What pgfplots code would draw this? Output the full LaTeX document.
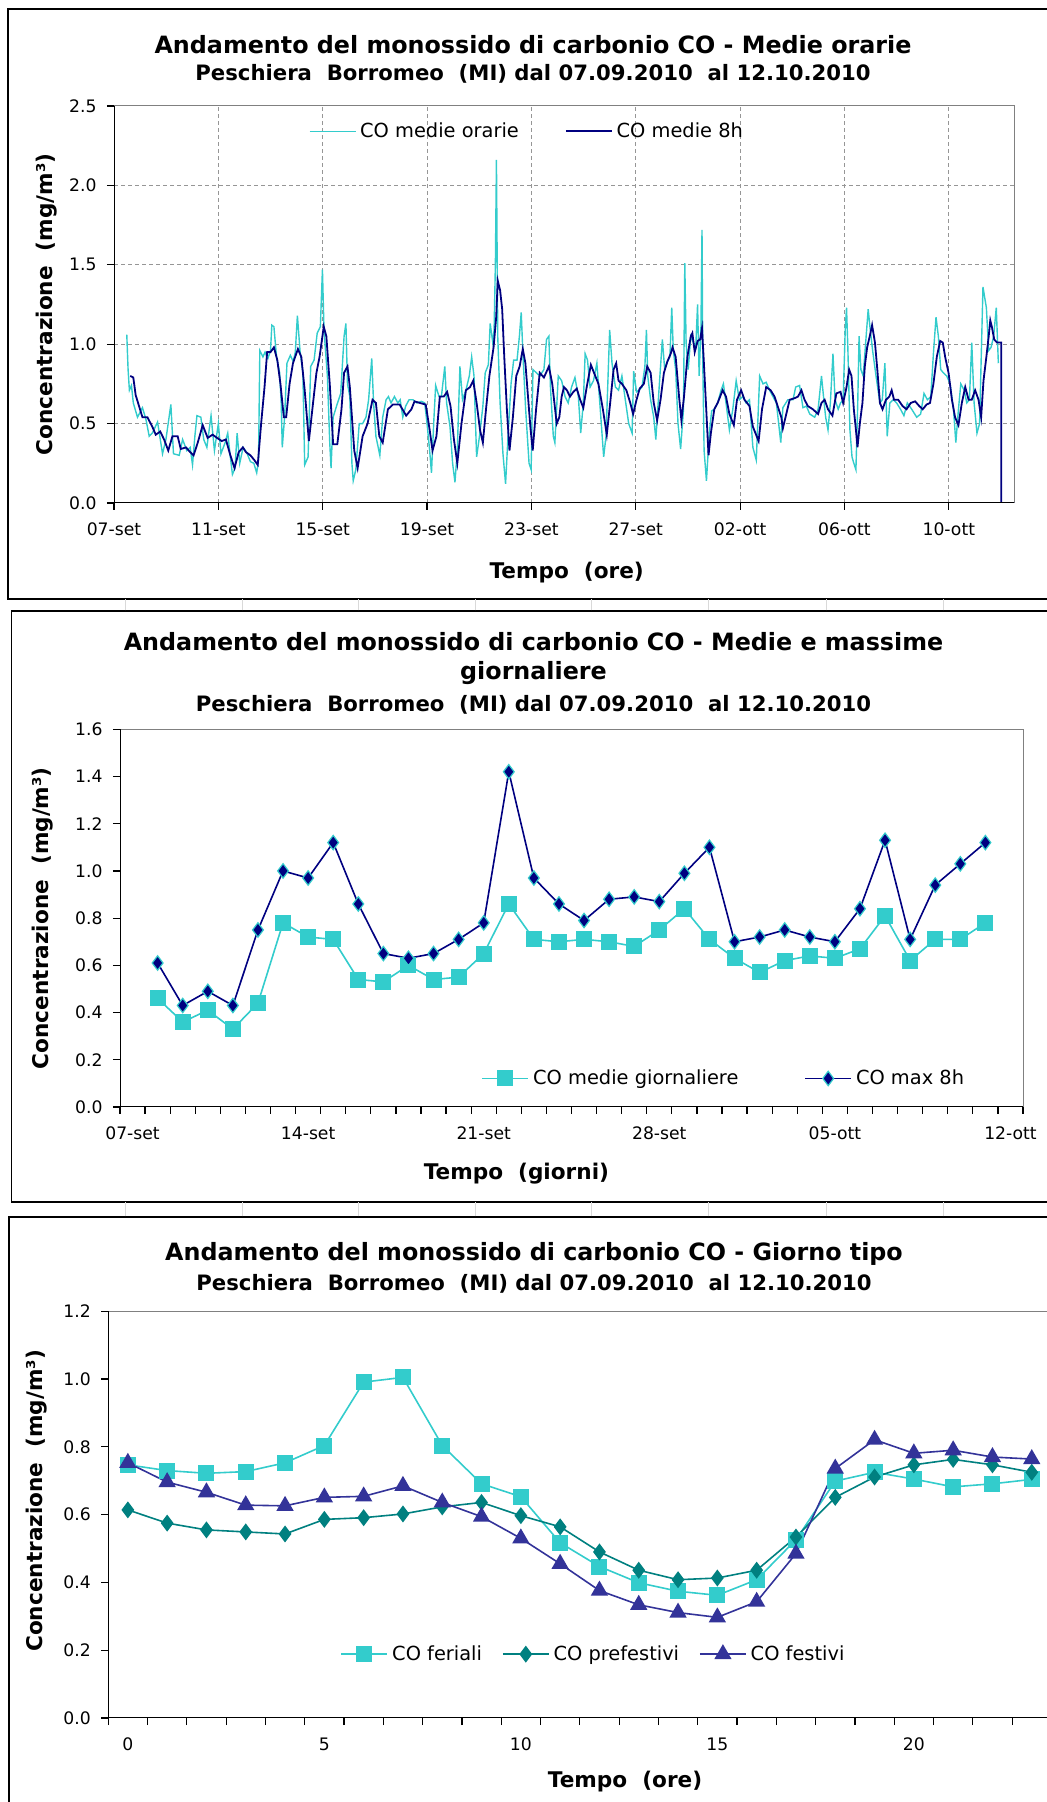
\documentclass[border=0pt]{standalone}
\usepackage{fontspec}
\setmainfont{DejaVu Sans}
\usepackage{pgfplots}
\usepackage{pgfplotstable}
\pgfplotsset{compat=1.18}
\definecolor{cocyan}{RGB}{51,204,204}
\definecolor{conavy}{RGB}{0,0,128}
\definecolor{coteal}{RGB}{0,128,128}
\definecolor{coindigo}{RGB}{51,51,153}
\definecolor{gridgray}{RGB}{150,150,150}
\definecolor{boxgray}{RGB}{128,128,128}
\newcommand{\tfont}{\bfseries\fontsize{11.9}{14}\selectfont}
\newcommand{\sfont}{\bfseries\fontsize{10.6}{12}\selectfont}
\newcommand{\lfont}{\bfseries\fontsize{10.8}{12}\selectfont}
\newcommand{\kfont}{\fontsize{8.6}{10}\selectfont}
\newcommand{\gfont}{\fontsize{9.7}{11}\selectfont}

\pgfplotstableread{
d v
0.49 1.06
0.54 0.84
0.59 0.71
0.67 0.74
0.74 0.63
0.90 0.54
1.09 0.60
1.22 0.53
1.35 0.42
1.47 0.44
1.67 0.51
1.86 0.31
1.99 0.40
2.18 0.62
2.28 0.31
2.50 0.30
2.63 0.40
2.79 0.33
2.92 0.35
3.01 0.24
3.10 0.42
3.18 0.55
3.33 0.54
3.44 0.40
3.56 0.35
3.72 0.55
3.85 0.33
4.00 0.50
4.10 0.31
4.26 0.38
4.36 0.44
4.46 0.29
4.54 0.18
4.64 0.22
4.72 0.44
4.82 0.25
4.95 0.35
5.08 0.32
5.23 0.26
5.36 0.25
5.47 0.19
5.54 0.27
5.59 0.96
5.71 0.92
5.79 0.95
5.90 0.91
6.00 0.96
6.05 1.12
6.13 1.11
6.23 0.92
6.35 0.82
6.41 0.63
6.45 0.35
6.54 0.54
6.63 0.88
6.76 0.93
6.87 0.89
6.95 0.95
7.03 1.18
7.13 0.96
7.24 0.82
7.31 0.24
7.44 0.29
7.54 0.86
7.67 0.90
7.79 1.07
7.91 1.11
7.99 1.47
8.05 1.09
8.18 0.80
8.27 0.38
8.32 0.22
8.40 0.54
8.53 0.61
8.69 0.69
8.82 1.05
8.89 1.13
8.95 0.75
9.04 0.67
9.12 0.25
9.17 0.14
9.27 0.21
9.40 0.50
9.53 0.50
9.66 0.54
9.76 0.65
9.88 0.91
9.95 0.63
10.04 0.42
10.19 0.30
10.30 0.54
10.43 0.65
10.52 0.67
10.62 0.63
10.75 0.67
10.88 0.63
10.97 0.65
11.07 0.54
11.18 0.61
11.31 0.65
11.46 0.65
11.61 0.63
11.78 0.64
11.91 0.63
12.00 0.50
12.10 0.33
12.17 0.19
12.26 0.52
12.33 0.74
12.46 0.67
12.55 0.67
12.68 0.86
12.75 0.63
12.88 0.48
12.98 0.25
13.07 0.13
13.16 0.33
13.26 0.86
13.36 0.65
13.49 0.71
13.62 0.80
13.71 0.92
13.80 0.80
13.90 0.29
14.01 0.42
14.14 0.61
14.23 0.82
14.35 0.87
14.42 1.13
14.52 1.01
14.57 1.09
14.62 1.51
14.66 2.16
14.71 1.05
14.80 0.63
14.91 0.31
15.01 0.12
15.11 0.44
15.22 0.75
15.32 0.90
15.45 0.90
15.54 1.05
15.61 1.20
15.68 0.92
15.78 0.59
15.91 0.25
15.99 0.21
16.06 0.84
16.19 0.82
16.32 0.80
16.48 0.84
16.58 1.03
16.67 1.05
16.73 0.73
16.84 0.42
16.90 0.38
17.03 0.80
17.16 0.77
17.29 0.67
17.41 0.63
17.54 0.73
17.67 0.79
17.80 0.67
17.89 0.44
17.99 0.63
18.06 0.94
18.15 0.90
18.25 0.73
18.38 0.77
18.51 0.88
18.64 0.59
18.77 0.29
18.86 0.42
19.00 1.09
19.09 0.88
19.22 0.73
19.34 0.71
19.47 0.80
19.60 0.65
19.73 0.50
19.86 0.44
19.92 0.83
20.03 0.70
20.12 0.71
20.24 0.73
20.35 0.86
20.41 1.09
20.46 0.80
20.57 0.65
20.69 0.54
20.77 0.40
20.89 0.71
21.02 1.03
21.11 0.84
21.21 0.89
21.31 0.92
21.38 1.23
21.44 0.96
21.53 0.84
21.62 0.50
21.72 0.34
21.83 0.59
21.88 1.51
21.93 1.01
22.01 0.84
22.11 1.05
22.21 1.01
22.30 0.98
22.37 1.25
22.43 0.80
22.50 1.11
22.54 1.72
22.57 0.88
22.62 0.33
22.71 0.14
22.82 0.44
22.91 0.58
23.01 0.59
23.14 0.63
23.27 0.71
23.36 0.75
23.46 0.63
23.59 0.46
23.72 0.59
23.85 0.77
23.97 0.65
24.10 0.67
24.23 0.63
24.36 0.65
24.49 0.35
24.62 0.27
24.75 0.80
24.88 0.75
25.00 0.76
25.13 0.71
25.26 0.67
25.39 0.63
25.56 0.38
25.64 0.60
25.83 0.65
26.03 0.65
26.13 0.73
26.28 0.74
26.41 0.60
26.54 0.61
26.67 0.56
26.86 0.54
26.99 0.59
27.12 0.80
27.21 0.65
27.28 0.54
27.37 0.46
27.46 0.63
27.56 0.94
27.64 0.65
27.76 0.59
27.85 0.63
27.95 0.65
28.03 1.09
28.08 1.23
28.13 0.98
28.21 0.46
28.29 0.29
28.36 0.25
28.44 0.21
28.51 0.63
28.56 1.05
28.63 0.84
28.72 0.80
28.85 1.09
28.91 1.22
28.97 1.12
29.08 0.96
29.21 0.80
29.36 0.63
29.45 0.65
29.55 0.88
29.64 0.42
29.74 0.63
29.87 0.65
30.00 0.63
30.15 0.59
30.28 0.55
30.41 0.63
30.58 0.59
30.77 0.54
30.92 0.56
31.05 0.69
31.18 0.65
31.31 0.67
31.41 0.94
31.51 1.17
31.60 1.05
31.69 0.84
31.79 0.82
31.92 0.80
32.05 0.75
32.18 0.59
32.27 0.38
32.37 0.59
32.46 0.75
32.59 0.71
32.69 0.63
32.79 0.65
32.88 1.01
32.97 0.63
33.08 0.44
33.18 0.50
33.31 1.36
33.44 1.23
33.53 0.96
33.62 0.98
33.72 1.05
33.82 1.23
33.90 0.88
}\hourly

\pgfplotstableread{
d v
0.62 0.80
0.74 0.79
0.83 0.68
0.96 0.61
1.09 0.54
1.28 0.54
1.47 0.48
1.60 0.43
1.77 0.45
1.92 0.40
2.08 0.33
2.24 0.42
2.44 0.42
2.56 0.34
2.76 0.35
2.92 0.32
3.05 0.30
3.21 0.38
3.40 0.49
3.59 0.41
3.78 0.43
3.95 0.41
4.13 0.39
4.29 0.40
4.46 0.30
4.62 0.22
4.78 0.32
4.94 0.35
5.06 0.32
5.23 0.30
5.38 0.27
5.51 0.24
5.64 0.50
5.77 0.73
5.87 0.95
6.00 0.95
6.13 0.98
6.26 0.90
6.38 0.75
6.51 0.54
6.60 0.54
6.73 0.75
6.86 0.88
7.05 0.97
7.18 0.92
7.31 0.71
7.47 0.39
7.63 0.63
7.76 0.82
7.88 0.92
8.04 1.11
8.14 1.05
8.27 0.75
8.40 0.37
8.56 0.37
8.72 0.59
8.82 0.82
8.95 0.86
9.04 0.73
9.21 0.33
9.34 0.22
9.53 0.42
9.72 0.50
9.91 0.65
10.04 0.63
10.17 0.42
10.30 0.38
10.50 0.59
10.69 0.62
10.95 0.62
11.20 0.55
11.40 0.59
11.52 0.64
11.72 0.63
11.95 0.62
12.10 0.46
12.21 0.33
12.36 0.42
12.49 0.67
12.64 0.67
12.77 0.70
12.90 0.61
13.03 0.40
13.16 0.25
13.32 0.50
13.49 0.71
13.65 0.73
13.77 0.77
13.90 0.63
14.03 0.46
14.14 0.38
14.26 0.59
14.39 0.80
14.55 0.98
14.65 1.17
14.71 1.40
14.80 1.34
14.88 1.22
14.96 0.92
15.06 0.59
15.16 0.33
15.29 0.54
15.42 0.80
15.55 0.86
15.67 0.97
15.77 0.88
15.87 0.67
15.96 0.48
16.05 0.33
16.18 0.59
16.32 0.82
16.48 0.79
16.67 0.86
16.80 0.75
16.97 0.50
17.07 0.54
17.16 0.67
17.25 0.73
17.36 0.71
17.48 0.67
17.61 0.70
17.74 0.72
17.87 0.65
17.99 0.60
18.12 0.73
18.28 0.87
18.40 0.82
18.57 0.75
18.74 0.59
18.89 0.43
19.02 0.63
19.15 0.84
19.25 0.88
19.34 0.77
19.47 0.75
19.64 0.71
19.79 0.63
19.90 0.56
20.03 0.65
20.15 0.72
20.31 0.75
20.44 0.86
20.57 0.82
20.69 0.63
20.82 0.52
20.95 0.65
21.08 0.82
21.21 0.89
21.34 0.94
21.41 0.98
21.53 0.92
21.66 0.67
21.75 0.52
21.85 0.67
21.98 0.92
22.11 1.05
22.17 1.07
22.26 0.95
22.37 1.02
22.47 1.03
22.54 1.10
22.60 0.92
22.69 0.63
22.79 0.30
22.88 0.44
23.01 0.59
23.14 0.63
23.33 0.71
23.46 0.67
23.59 0.56
23.76 0.49
23.88 0.65
24.04 0.71
24.17 0.65
24.36 0.61
24.49 0.48
24.71 0.39
24.84 0.59
25.00 0.73
25.17 0.71
25.32 0.67
25.48 0.59
25.58 0.54
25.64 0.47
25.77 0.56
25.90 0.65
26.09 0.66
26.22 0.67
26.35 0.71
26.47 0.65
26.60 0.61
26.79 0.59
26.99 0.56
27.12 0.63
27.24 0.65
27.37 0.59
27.54 0.55
27.69 0.69
27.85 0.70
27.95 0.63
28.08 0.73
28.18 0.84
28.27 0.80
28.36 0.59
28.44 0.46
28.50 0.35
28.59 0.50
28.69 0.63
28.78 0.86
28.87 0.98
28.97 1.05
29.06 1.12
29.17 1.01
29.26 0.84
29.36 0.63
29.46 0.59
29.59 0.65
29.72 0.67
29.81 0.71
29.90 0.65
30.06 0.65
30.23 0.61
30.38 0.59
30.54 0.63
30.71 0.64
30.87 0.61
31.00 0.59
31.15 0.62
31.28 0.63
31.41 0.75
31.54 0.92
31.67 1.02
31.77 1.01
31.86 0.92
31.99 0.82
32.12 0.65
32.24 0.54
32.37 0.49
32.50 0.63
32.63 0.73
32.76 0.65
32.88 0.65
33.01 0.71
33.14 0.65
33.24 0.54
33.33 0.77
33.44 0.92
33.53 1.05
33.59 1.15
33.65 1.11
33.74 1.03
33.85 1.01
34.01 1.01
34.01 0
34.50 0
}\eighth

\pgfplotstableread{
d media max
1 0.46 0.61
2 0.36 0.43
3 0.41 0.49
4 0.33 0.43
5 0.44 0.75
6 0.78 1.00
7 0.72 0.97
8 0.71 1.12
9 0.54 0.86
10 0.53 0.65
11 0.60 0.63
12 0.54 0.65
13 0.55 0.71
14 0.65 0.78
15 0.86 1.42
16 0.71 0.97
17 0.70 0.86
18 0.71 0.79
19 0.70 0.88
20 0.68 0.89
21 0.75 0.87
22 0.84 0.99
23 0.71 1.10
24 0.63 0.70
25 0.57 0.72
26 0.62 0.75
27 0.64 0.72
28 0.63 0.70
29 0.67 0.84
30 0.81 1.13
31 0.62 0.71
32 0.71 0.94
33 0.71 1.03
34 0.78 1.12
}\daily

\pgfplotstableread{
h fer pre fes
0 0.747 0.614 0.753
1 0.730 0.575 0.696
2 0.722 0.555 0.666
3 0.727 0.549 0.628
4 0.753 0.543 0.626
5 0.804 0.586 0.651
6 0.991 0.591 0.654
7 1.005 0.602 0.685
8 0.804 0.623 0.636
9 0.691 0.636 0.594
10 0.653 0.597 0.530
11 0.517 0.564 0.455
12 0.447 0.490 0.376
13 0.399 0.436 0.334
14 0.374 0.408 0.311
15 0.362 0.413 0.297
16 0.408 0.436 0.343
17 0.526 0.534 0.485
18 0.699 0.651 0.736
19 0.725 0.711 0.821
20 0.705 0.747 0.781
21 0.682 0.763 0.790
22 0.691 0.747 0.770
23 0.704 0.725 0.764
}\tipo

\pgfplotsset{
  basestyle/.style={
    scale only axis,
    axis line style={boxgray, line width=0.5pt},
    tick style={black, line width=0.6pt},
    tick align=outside,
    xtick pos=left, ytick pos=left,
    major tick length=3.5pt, minor tick length=3.5pt,
    /pgf/number format/assume math mode=true,
    yticklabel style={font=\kfont, anchor=east, inner sep=0pt, xshift=-5pt},
    yticklabel={\pgfmathprintnumber[fixed,fixed zerofill,precision=1]{\tick}},
    legend cell align=left,
    label style={font=\lfont},
    xlabel style={anchor=center},
  },
}

\begin{document}
\begin{tikzpicture}
\path[use as bounding box] (0pt,0pt) rectangle (523.5pt,901pt);
\begin{scope}[x=0.5pt,y=0.5pt]
% frames
\draw[black, line width=0.9pt] (8,1203) rectangle (1070,1793);
\draw[black, line width=0.9pt] (11.4,600) rectangle (1070,1191);
\draw[black, line width=0.9pt] (8.7,-20) rectangle (1070,585);
\foreach \xx in {125,242,358.6,475,591.6,708.5,826,943}{
  \draw[gray!30, line width=0.5pt] (\xx,1191.5) -- (\xx,1202.5);
  \draw[gray!30, line width=0.5pt] (\xx,585.5) -- (\xx,599.5);
}
% titles
\node[font=\tfont] at (533,1757) {Andamento del monossido di carbonio CO - Medie orarie};
\node[font=\sfont] at (533,1728) {Peschiera~~Borromeo~~(MI)~dal~07.09.2010~~al~12.10.2010};
\node[font=\tfont] at (533.5,1160.5) {Andamento del monossido di carbonio CO - Medie e massime};
\node[font=\tfont] at (533.5,1129) {giornaliere};
\node[font=\sfont] at (533.5,1097) {Peschiera~~Borromeo~~(MI)~dal~07.09.2010~~al~12.10.2010};
\node[font=\tfont] at (534,548) {Andamento del monossido di carbonio CO - Giorno tipo};
\node[font=\sfont] at (534,518) {Peschiera~~Borromeo~~(MI)~dal~07.09.2010~~al~12.10.2010};
\end{scope}

% ---------- Panel 1 ----------
\begin{axis}[basestyle,
  at={(57pt,649.5pt)}, anchor=south west,
  width=450pt, height=198.5pt,
  xmin=0, xmax=34.5, ymin=0, ymax=2.5,
  xtick={0,4,8,12,16,20,24,28,32},
  xticklabels={07-set,11-set,15-set,19-set,23-set,27-set,02-ott,06-ott,10-ott},
  xticklabel style={font=\kfont, anchor=center, yshift=-9.5pt},
  ytick={0,0.5,1,1.5,2,2.5},
  xmajorgrids, ymajorgrids,
  major grid style={gridgray, line width=0.5pt, dash pattern=on 2.2pt off 1.3pt},
  xlabel={Tempo~~(ore)},
  xlabel style={at={(axis description cs:0.503,-0.176)}},
  ylabel={Concentrazione~~(mg/m³)},
  ylabel style={at={(axis description cs:-0.0744,0.5)}, anchor=center},
  legend columns=2,
  legend style={draw=none, fill=none, font=\gfont, inner sep=0pt,
    at={(axis description cs:0.216,0.936)}, anchor=west,
    /tikz/every even column/.append style={column sep=21pt}},
  legend image code/.code={\draw[#1] (0pt,0pt) -- (23pt,0pt);},
]
\addplot[cocyan, line width=0.7pt] table[x=d,y=v] {\hourly};
\addlegendentry{CO medie orarie}
\addplot[conavy, line width=0.9pt] table[x=d,y=v] {\eighth};
\addlegendentry{CO medie 8h}
\draw[black, line width=0.8pt] (rel axis cs:0,1) -- (rel axis cs:0,0) -- (rel axis cs:1,0);
\end{axis}

% ---------- Panel 2 ----------
\begin{axis}[basestyle,
  at={(60pt,347.5pt)}, anchor=south west,
  width=451.5pt, height=188.85pt,
  xmin=-0.5, xmax=35.5, ymin=0, ymax=1.6,
  xtick={0,7,14,21,28,35},
  xticklabels={07-set,14-set,21-set,28-set,05-ott,12-ott},
  xticklabel style={font=\kfont, anchor=center, yshift=-9.5pt},
  major x tick style={draw=none},
  minor xtick={-0.5,0.5,...,35.5},
  ytick={0,0.2,...,1.6},
  xlabel={Tempo~~(giorni)},
  xlabel style={at={(axis description cs:0.439,-0.1755)}},
  ylabel={Concentrazione~~(mg/m³)},
  ylabel style={at={(axis description cs:-0.0853,0.5)}, anchor=center},
  legend columns=2,
  legend style={draw=none, fill=none, font=\gfont, inner sep=0pt,
    at={(axis description cs:0.40,0.0755)}, anchor=west,
    /tikz/every even column/.append style={column sep=31pt}},
  legend image code/.code={\draw[mark repeat=2,mark phase=2,#1] plot coordinates {(0pt,0pt) (11.5pt,0pt) (23pt,0pt)};},
]
\addplot[cocyan, line width=0.8pt, mark=square*, mark size=3.6pt, mark options={fill=cocyan, draw=cocyan}] table[x=d,y=media] {\daily};
\addlegendentry{CO medie giornaliere}
\addplot[conavy, line width=0.8pt, mark=diamond*, mark size=3.6pt, mark options={fill=conavy, draw=cocyan, line width=0.6pt}] table[x=d,y=max] {\daily};
\addlegendentry{CO max 8h}
\draw[black, line width=0.8pt] (rel axis cs:0,1) -- (rel axis cs:0,0) -- (rel axis cs:1,0);
\end{axis}

% ---------- Panel 3 ----------
\begin{axis}[basestyle,
  at={(54.1pt,42pt)}, anchor=south west,
  width=471.6pt, height=203.35pt,
  xmin=-0.5, xmax=23.5, ymin=0, ymax=1.2,
  xtick={0,5,10,15,20},
  xticklabel style={font=\kfont, anchor=center, yshift=-9.5pt},
  major x tick style={draw=none},
  minor xtick={-0.5,0.5,...,23.5},
  ytick={0,0.2,...,1.2},
  xlabel={Tempo~~(ore)},
  xlabel style={at={(axis description cs:0.548,-0.156)}},
  ylabel={Concentrazione~~(mg/m³)},
  ylabel style={at={(axis description cs:-0.0755,0.534)}, anchor=center},
  legend columns=3,
  legend style={draw=none, fill=none, font=\gfont, inner sep=0pt,
    at={(axis description cs:0.246,0.157)}, anchor=west,
    /tikz/every even column/.append style={column sep=8pt}},
  legend image code/.code={\draw[mark repeat=2,mark phase=2,#1] plot coordinates {(0pt,0pt) (11.5pt,0pt) (23pt,0pt)};},
]
\addplot[cocyan, line width=0.8pt, mark=square*, mark size=3.6pt, mark options={fill=cocyan, draw=cocyan}] table[x=h,y=fer] {\tipo};
\addlegendentry{CO feriali}
\addplot[coteal, line width=0.8pt, mark=diamond*, mark size=3.6pt, mark options={fill=coteal, draw=coteal}] table[x=h,y=pre] {\tipo};
\addlegendentry{CO prefestivi}
\addplot[coindigo, line width=0.8pt, mark=triangle*, mark size=4.2pt, mark options={fill=coindigo, draw=coindigo}] table[x=h,y=fes] {\tipo};
\addlegendentry{CO festivi}
\draw[black, line width=0.8pt] (rel axis cs:0,1) -- (rel axis cs:0,0) -- (rel axis cs:1,0);
\end{axis}
\end{tikzpicture}
\end{document}
